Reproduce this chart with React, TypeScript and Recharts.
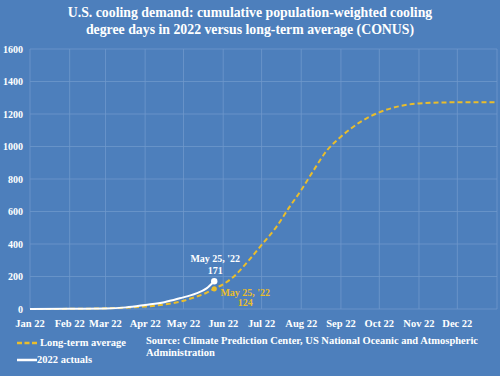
import React from "react";
import { LineChart, Line, XAxis, YAxis, CartesianGrid } from "recharts";

// x = day of year (Jan 1 = 0)
const monthTicks = [0, 31, 59, 90, 120, 151, 181, 212, 243, 273, 304, 334];
const monthLabels = ["Jan 22", "Feb 22", "Mar 22", "Apr 22", "May 22", "Jun 22", "Jul 22", "Aug 22", "Sep 22", "Oct 22", "Nov 22", "Dec 22"];
const yTicks = [0, 200, 400, 600, 800, 1000, 1200, 1400, 1600];

const avgDays = [0, 31, 59, 75, 90, 105, 117, 130, 138, 144, 151, 160, 170, 181, 193, 203, 212, 221, 232, 243, 258, 273, 290, 304, 334, 365];
const avgValues = [0, 1, 4, 8, 15, 28, 45, 76, 100, 124, 152, 205, 290, 394, 510, 630, 732, 845, 975, 1060, 1150, 1210, 1250, 1265, 1272, 1272];

const actualDays = [0, 31, 59, 75, 90, 105, 117, 130, 138, 144];
const actualValues = [0, 1, 3, 10, 25, 42, 66, 96, 127, 171];

const markDay = 144;
const markLabel = "May 25, '22";

const avgData = avgDays.map((d, i) => ({ day: d, avg: avgValues[i] }));
const actualData = actualDays.map((d, i) => ({ day: d, actual: actualValues[i] }));

const BG = "#4d7fbc";
const GOLD = "#e9bd2c";
const FONT = "Liberation Serif, Times New Roman, serif";

const monthName = (v: number) => monthLabels[monthTicks.indexOf(v)] ?? "";

function XTick(props: any) {
  const { x, y, payload } = props;
  return (
    <text x={x} y={y + 10} textAnchor="middle" fill="#fff" fontSize={10.5} fontWeight="bold" style={{ fontFamily: FONT }}>
      {monthName(payload.value)}
    </text>
  );
}

function YTick(props: any) {
  const { x, y, payload } = props;
  return (
    <text x={x + 1} y={y + 3.5} textAnchor="end" fill="#fff" fontSize={10} fontWeight="bold" style={{ fontFamily: FONT }}>
      {payload.value}
    </text>
  );
}

function ActualDot(props: any) {
  const { cx, cy, payload } = props;
  if (payload.day !== markDay) return null;
  return (
    <g style={{ fontFamily: FONT }}>
      <circle cx={cx} cy={cy} r={3.2} fill="#fff" />
      <text x={cx + 1} y={cy - 19} textAnchor="middle" fill="#fff" fontSize={10} fontWeight="bold">
        {markLabel}
      </text>
      <text x={cx + 1} y={cy - 7} textAnchor="middle" fill="#fff" fontSize={10} fontWeight="bold">
        {payload.actual}
      </text>
    </g>
  );
}

function AvgDot(props: any) {
  const { cx, cy, payload } = props;
  if (payload.day !== markDay) return null;
  return (
    <g style={{ fontFamily: FONT }}>
      <circle cx={cx} cy={cy} r={2.6} fill={GOLD} />
      <text x={cx + 31} y={cy + 7} textAnchor="middle" fill={GOLD} fontSize={10} fontWeight="bold">
        {markLabel}
      </text>
      <text x={cx + 31} y={cy + 17} textAnchor="middle" fill={GOLD} fontSize={10} fontWeight="bold">
        {payload.avg}
      </text>
    </g>
  );
}

export default function App() {
  return (
    <div style={{ position: "absolute", left: 0, top: 0, width: 500, height: 376, background: BG, fontFamily: FONT, color: "#fff" }}>
      <div style={{ position: "absolute", top: 4, left: 0, width: 500, textAlign: "center", fontSize: 13.8, fontWeight: "bold", lineHeight: "17px" }}>
        U.S. cooling demand: cumulative population-weighted cooling
        <br />
        degree days in 2022 versus long-term average (CONUS)
      </div>
      <LineChart width={500} height={376} margin={{ top: 49, right: 3, bottom: 37, left: 0 }}>
        <CartesianGrid stroke="#6f98cb" strokeWidth={0.8} />
        <XAxis
          dataKey="day"
          type="number"
          domain={[0, 365]}
          ticks={monthTicks}
          allowDuplicatedCategory={false}
          axisLine={false}
          tickLine={false}
          interval={0}
          height={30}
          tick={<XTick />}
        />
        <YAxis
          type="number"
          domain={[0, 1600]}
          ticks={yTicks}
          width={30}
          axisLine={false}
          tickLine={false}
          tick={<YTick />}
        />
        <Line
          data={avgData}
          dataKey="avg"
          type="monotone"
          stroke={GOLD}
          strokeWidth={2}
          strokeDasharray="5 3"
          dot={<AvgDot />}
          activeDot={false}
          isAnimationActive={false}
        />
        <Line
          data={actualData}
          dataKey="actual"
          type="monotone"
          stroke="#fff"
          strokeWidth={2}
          dot={<ActualDot />}
          activeDot={false}
          isAnimationActive={false}
        />
      </LineChart>
      <div style={{ position: "absolute", left: 17, top: 334, fontSize: 10.5, fontWeight: "bold", lineHeight: "17px" }}>
        <div style={{ display: "flex", alignItems: "center" }}>
          <svg width={20} height={4} style={{ marginRight: 3 }}>
            <line x1={0} y1={2} x2={20} y2={2} stroke={GOLD} strokeWidth={2.5} strokeDasharray="5 2.5" />
          </svg>
          Long-term average
        </div>
        <div style={{ display: "flex", alignItems: "center" }}>
          <svg width={20} height={4} style={{ marginRight: 0 }}>
            <line x1={0} y1={2} x2={20} y2={2} stroke="#fff" strokeWidth={2.5} />
          </svg>
          2022 actuals
        </div>
      </div>
      <div style={{ position: "absolute", left: 146, top: 335, width: 352, fontSize: 10.5, fontWeight: "bold", lineHeight: "12px", whiteSpace: "nowrap" }}>
        Source: Climate Prediction Center, US National Oceanic and Atmospheric
        <br />
        Administration
      </div>
    </div>
  );
}
